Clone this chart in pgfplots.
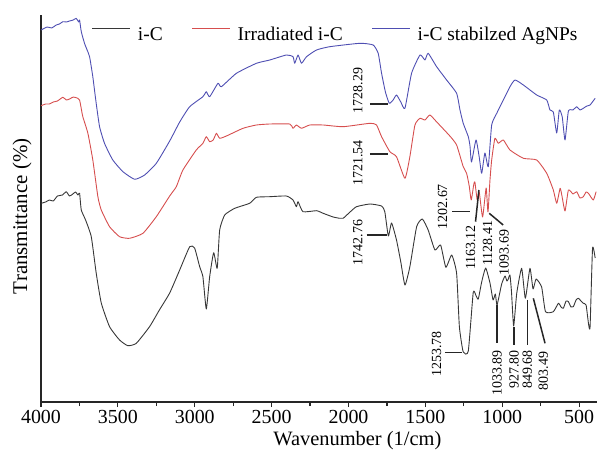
\documentclass[border=0pt]{standalone}
\usepackage{fontspec}
\setmainfont{Liberation Serif}
\usepackage{pgfplots}
\usepackage{pgfplotstable}
\pgfplotsset{compat=1.18}
\definecolor{cblack}{RGB}{55,55,55}
\definecolor{cred}{RGB}{214,78,78}
\definecolor{cblue}{RGB}{78,78,178}

\pgfplotstableread{
x y
3999 198.7
3970 200
3945 202
3920 201
3893 206
3860 207
3836 210.3
3815 206
3801 207
3775 210
3760 207
3749 208.7
3738 192
3710 182
3673 165.3
3641 129
3608 99
3554 75.3
3489 62
3435 56.3
3380 58.7
3294 75.3
3230 92
3163 109
3098 132
3033 155.3
3001 154
2968 135.3
2947 125.3
2925 93
2903 125.3
2877 149.3
2854 133.7
2838 172
2805 187
2740 193.7
2643 198.7
2599 204.7
2512 205.3
2404 206
2361 202
2339 195.3
2328 200.3
2296 190.3
2208 191.3
2165 188.7
2100 185
2057 183.7
2035 183.7
1990 190
1948 195.3
1861 198
1785 196
1764 190.3
1741 166
1720 179
1688 162
1660 140
1633 117
1601 135.3
1557 175.3
1520 183
1482 172
1438 152
1401 157
1367 134.7
1329 147
1297 128.7
1279 75.3
1254 50
1221 51
1189 109.5
1170 106
1156 103
1134 120
1108 134
1080 119
1060 102
1045 108
1034 97
1004 118
982 126
970 121
961 123
950 127
940 110
926 76
906 108.7
874 133.7
850 103.7
820 133.7
800 113
780 123
744 115
719 90.3
668 90.3
635 98.7
618 95
603 93.7
585 101
570 100.3
553 95
538 95.3
520 102
505 103.7
488 101
473 98.7
455 97
439 78
429 75.3
413 153.7
396 144
}\blackdata

\pgfplotstableread{
x y
3999 296.3
3970 298
3945 298
3920 300
3893 301
3858 304.7
3835 302
3814 303
3790 305
3760 303.7
3749 302
3740 295
3728 285.3
3695 268.7
3663 242
3630 205.3
3608 192
3554 175.3
3489 165.3
3424 163.7
3337 168.7
3250 185.3
3163 206
3120 215.3
3077 232
2990 252
2947 258.7
2925 265.3
2903 260.3
2880 262
2859 268.7
2838 263.7
2794 266
2686 273.7
2599 277
2512 278
2382 278
2361 273.7
2339 277
2306 273.7
2252 277
2165 277
2035 275.3
1861 278.7
1818 277
1785 265.3
1731 250.3
1688 245.3
1633 223.7
1601 245.3
1568 277
1535 283.7
1503 282
1471 287
1428 280.3
1341 266
1297 257
1254 235.3
1232 228.7
1215 216
1202 202
1185 218
1178 220
1163 202
1150 210
1128 185
1105 214
1093 190
1080 222
1069 242
1048 263.7
1026 258.7
993 262
950 252
863 243.7
776 242
711 228.7
668 212
646 198.7
624 213.7
613 207
592 191
570 212
540 208
516 210.3
495 204
473 205.3
455 210
440 208.7
408 202
390 210.3
}\reddata

\pgfplotstableread{
x y
3999 372
3960 375
3930 374
3901 377
3880 378
3858 380.3
3835 380
3814 381
3790 382
3771 383.7
3755 380
3749 382
3738 370.3
3717 358.7
3700 352
3684 345.3
3663 325.3
3641 298.7
3619 275.3
3587 258.7
3533 242
3467 230.3
3391 222.7
3326 227
3250 238.7
3163 261
3098 280
3033 295.3
2947 305.3
2925 310.3
2903 305.3
2849 318.7
2827 315.3
2729 328.7
2599 338.7
2512 342
2404 347
2361 345.3
2350 338.7
2328 347
2306 338.7
2273 345.3
2208 352
2122 355.3
1926 358.7
1840 357
1807 348.7
1785 328.7
1760 310
1735 298.7
1710 302
1688 307
1660 300
1633 293.7
1590 328.7
1535 347
1503 342
1482 348.7
1427 335.3
1362 322
1297 308.7
1275 292
1254 278.7
1221 265.3
1210 256
1200 240
1171 262
1150 245
1134 228.7
1113 249
1091 235.3
1069 277
1036 288.7
1015 295.3
950 315.3
917 322
863 317
776 307
711 302
690 292
668 290
646 269
629 292
610 285
592 262
570 291
540 292
516 295.3
495 292
473 293.7
450 296
429 297
396 303.7
}\bluedata

\begin{document}
\begin{tikzpicture}
\begin{axis}[
  at={(0,0)}, anchor=south west,
  scale only axis, width=556bp, height=387bp,
  xmin=384, xmax=4000, ymin=0, ymax=387, x dir=reverse,
  axis x line=bottom, axis y line=left,
  axis line style={-, line width=1.4bp, draw=black!85},
  x axis line style={-}, y axis line style={-},
  ytick=\empty,
  xtick={500,1000,...,4000},
  minor x tick num=1,
  tick align=outside,
  major tick length=5bp, minor tick length=4bp,
  every tick/.append style={line width=1.2bp, black!85},
  xticklabel style={font=\fontsize{20}{22}\selectfont},
  /pgf/number format/assume math mode=true,
  /pgf/number format/1000 sep={},
  xlabel={Wavenumber (1/cm)},
  ylabel={Transmittance (\%)},
  every axis x label/.style={at={(rel axis cs:0.569,-0.101)}, anchor=center, font=\fontsize{20.5}{23}\selectfont},
  every axis y label/.style={at={([xshift=-19bp]rel axis cs:0,0.48)}, rotate=90, anchor=center, font=\fontsize{21}{23}\selectfont},
  legend style={draw=none, fill=none, at={(rel axis cs:0.0917,0.9496)}, anchor=west,
    inner sep=0pt, outer sep=0pt, font=\fontsize{19.5}{22}\selectfont,
    nodes={inner sep=0pt},
    /tikz/every odd column/.style={column sep=7bp},
    /tikz/every even column/.style={column sep=29bp}},
  legend columns=3,
  legend cell align=left,
  legend image code/.code={\draw[#1] (0bp,6.5bp) -- (38bp,6.5bp);},
  clip=false,
]
\addplot[cblack, line width=0.9bp, line join=round, smooth, tension=0.3] table[x=x,y=y] {\blackdata};
\addlegendentry{i-C}
\addplot[cred, line width=0.9bp, line join=round, smooth, tension=0.3] table[x=x,y=y] {\reddata};
\addlegendentry{Irradiated i-C}
\addplot[cblue, line width=0.9bp, line join=round, smooth, tension=0.3] table[x=x,y=y] {\bluedata};
\addlegendentry{i-C stabilzed AgNPs}

\begin{scope}[every node/.style={rotate=90, inner sep=0pt, font=\fontsize{14}{16}\selectfont}]
\draw[line width=1.5bp, black!85] (axis cs:1861,298) -- (axis cs:1742,298);
\node at (axis cs:1940,311.5) {1728.29};
\draw[line width=1.5bp, black!85] (axis cs:1861,248) -- (axis cs:1742,248);
\node at (axis cs:1940,239) {1721.54};
\draw[line width=1.5bp, black!85] (axis cs:1883,167) -- (axis cs:1749,167);
\node at (axis cs:1940,159.5) {1742.76};
\draw[line width=1.5bp, black!85] (axis cs:1327,190.7) -- (axis cs:1210,190.7);
\node at (axis cs:1389,195.3) {1202.67};
\draw[line width=1.5bp, black!85] (axis cs:1174,180.3) -- (axis cs:1152,212);
\node at (axis cs:1206,154.5) {1163.12};
\node at (axis cs:1095,158.7) {1128.41};
\draw[line width=1.5bp, black!85] (axis cs:1085,188.7) -- (axis cs:994,177);
\node at (axis cs:989,149.5) {1093.69};
\draw[line width=1.5bp, black!85] (axis cs:1373,49.3) -- (axis cs:1264,49.3);
\node at (axis cs:1427,48) {1253.78};
\draw[line width=1.5bp, black!85] (axis cs:1033,97) -- (axis cs:1033,59);
\node[anchor=east] at (axis cs:1033,52) {1033.89};
\draw[line width=1.5bp, black!85] (axis cs:924,75) -- (axis cs:924,57);
\node[anchor=east] at (axis cs:924,52) {927.80};
\draw[line width=1.5bp, black!85] (axis cs:837,102) -- (axis cs:837,57);
\node[anchor=east] at (axis cs:837,52) {849.68};
\draw[line width=1.5bp, black!85] (axis cs:798,103.7) -- (axis cs:722,58.7);
\node[anchor=east] at (axis cs:733,50.3) {803.49};
\end{scope}
\end{axis}
\pgfresetboundingbox
\path[use as bounding box] (-41bp,-55bp) rectangle (556bp,402bp);
\end{tikzpicture}
\end{document}
